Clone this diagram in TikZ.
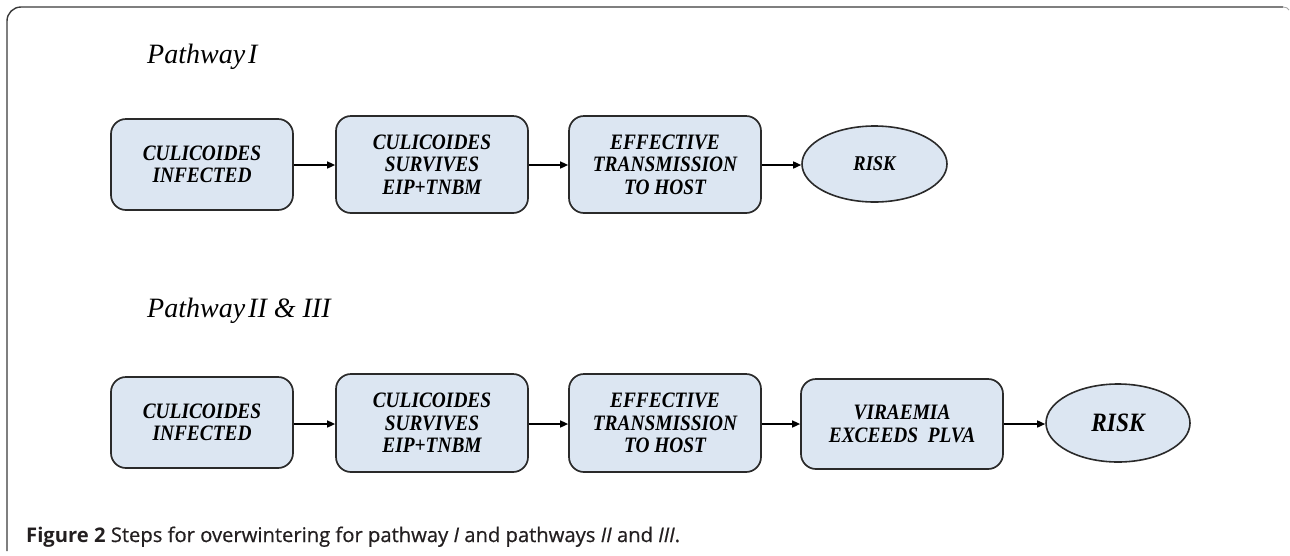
\documentclass[tikz,border=0pt]{standalone}
\usepackage{fontspec}
\usetikzlibrary{shapes.geometric,arrows.meta}
\setmainfont{Liberation Serif}
\newfontfamily\boxfont[FakeStretch=0.88]{Liberation Serif}
\newfontfamily\titlefont{Liberation Serif}
\newfontfamily\capfont[UprightFeatures={FakeBold=0.6}, ItalicFeatures={FakeBold=0.6}]{Open Sans}
\definecolor{boxfill}{HTML}{DCE6F2}
\definecolor{boxline}{HTML}{2A2A2A}
\definecolor{framecol}{HTML}{3A3A3A}
\definecolor{captext}{HTML}{231F20}
\tikzset{
  stepbox/.style={draw=boxline, line width=1.7pt, fill=boxfill, rounded corners=15pt,
    align=center, inner sep=0pt, font=\boxfont\fontsize{22}{22.5}\selectfont\bfseries\itshape},
  riskell/.style={draw=boxline, line width=1.6pt, fill=boxfill, ellipse, inner sep=0pt,
    align=center, font=\boxfont\fontsize{21}{24}\selectfont\bfseries\itshape},
  flow/.style={line width=1.5pt, draw=black, -{Triangle[length=8pt,width=7pt]}},
  pathtitle/.style={anchor=base west, inner sep=0pt, font=\titlefont\fontsize{28}{30}\selectfont\itshape},
}
\begin{document}
\begin{tikzpicture}[x=1pt,y=-1pt]
\useasboundingbox (0,0) rectangle (1290,555);
% frame
\draw[framecol, line width=1.4pt, rounded corners=14pt] (7,551) -- (7,7) -- (1283,7);
\draw[gray!70, line width=0.8pt] (1283,7) .. controls (1286,7) and (1288,8) .. (1289,10);
% titles
\node[pathtitle] (t1) at (147,63) {Pathway\hspace{3pt}I};
\node[pathtitle] (t2) at (147,317) {Pathway\hspace{3pt}II \& III};
% row 1
\node[stepbox, minimum width=182pt, minimum height=91pt] (a1) at (202,164.5) {CULICOIDES\\INFECTED};
\node[stepbox, minimum width=192pt, minimum height=97pt] (a2) at (432,164.5) {CULICOIDES\\SURVIVES\\EIP+TNBM};
\node[stepbox, minimum width=192pt, minimum height=97pt] (a3) at (665,164.5) {EFFECTIVE\\TRANSMISSION\\TO HOST};
\node[riskell, minimum width=145pt, minimum height=76pt] (a4) at (874.5,164) {RISK};
\draw[flow] (a1.east |- 0,165) -- (a2.west |- 0,165);
\draw[flow] (a2.east |- 0,165) -- (a3.west |- 0,165);
\draw[flow] (a3.east |- 0,165) -- (a4.west |- 0,165);
% row 2
\node[stepbox, minimum width=182pt, minimum height=91pt] (b1) at (202,422.5) {CULICOIDES\\INFECTED};
\node[stepbox, minimum width=192pt, minimum height=98pt] (b2) at (432,423) {CULICOIDES\\SURVIVES\\EIP+TNBM};
\node[stepbox, minimum width=192pt, minimum height=98pt] (b3) at (665,423) {EFFECTIVE\\TRANSMISSION\\TO HOST};
\node[stepbox, minimum width=202pt, minimum height=90pt] (b4) at (902,424) {VIRAEMIA\\EXCEEDS\ \ PLVA};
\node[riskell, minimum width=144pt, minimum height=78pt, font=\boxfont\fontsize{26.5}{28}\selectfont\bfseries\itshape] (b5) at (1118,423) {RISK};
\draw[flow] (b1.east |- 0,424) -- (b2.west |- 0,424);
\draw[flow] (b2.east |- 0,424) -- (b3.west |- 0,424);
\draw[flow] (b3.east |- 0,424) -- (b4.west |- 0,424);
\draw[flow] (b4.east |- 0,424) -- (b5.west |- 0,424);
% caption
\node[anchor=base west, inner sep=0pt, text=captext, font=\capfont\fontsize{20.2}{22}\selectfont] (cap) at (26,542)
  {\textbf{Figure 2} Steps for overwintering for pathway \textit{I} and pathways \textit{II} and \textit{III}.};
\end{tikzpicture}
\end{document}
